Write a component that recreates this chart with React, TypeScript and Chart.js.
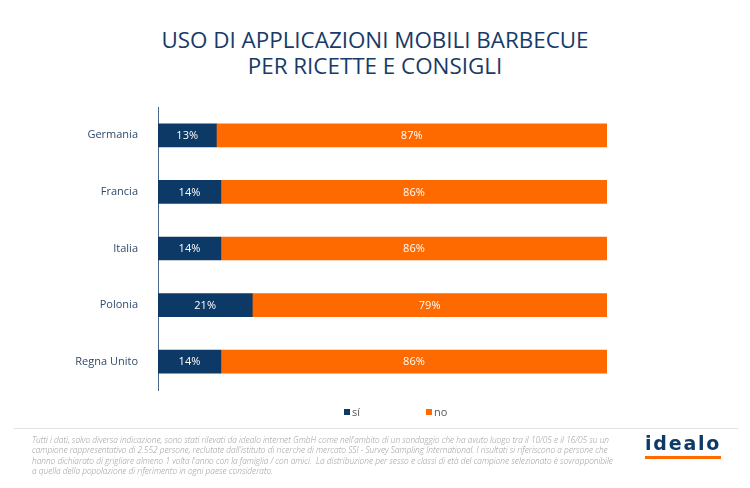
import React, { useEffect, useRef } from "react";
import { Chart, registerables } from "chart.js";

Chart.register(...registerables);

const categories = ["Germania", "Francia", "Italia", "Polonia", "Regna Unito"];
const siValues = [13, 14, 14, 21, 14];
const noValues = [87, 86, 86, 79, 86];
const seriesNames = ["sí", "no"];
const titleLines = ["USO DI APPLICAZIONI MOBILI BARBECUE", "PER RICETTE E CONSIGLI"];
const footerLines = [
  "Tutti i dati, salvo diversa indicazione, sono stati rilevati da idealo internet GmbH come nell'ambito di un sondaggio che ha avuto luogo tra il 10/05 e il 16/05 su un",
  "campione rappresentativo di 2.552 persone, reclutate dall'istituto di ricerche di mercato SSI - Survey Sampling International. I risultati si riferiscono a persone che",
  "hanno dichiarato di grigliare almeno 1 volta l'anno con la famiglia / con amici.  La distribuzione per sesso e classi di età del campione selezionato è sovrapponibile",
  "a quella della popolazione di riferimento in ogni paese considerato.",
];

const NAVY = "#0c3966";
const ORANGE = "#ff6a00";
const FONT = '"Open Sans", "DejaVu Sans", sans-serif';

const barLabels = {
  id: "barLabels",
  afterDatasetsDraw(chart: any) {
    const ctx = chart.ctx;
    ctx.save();
    ctx.font = `11px ${FONT}`;
    ctx.fillStyle = "#ffffff";
    ctx.textAlign = "center";
    ctx.textBaseline = "middle";
    chart.data.datasets.forEach((ds: any, di: number) => {
      const meta = chart.getDatasetMeta(di);
      meta.data.forEach((el: any, i: number) => {
        const cx = (el.x + el.base) / 2;
        ctx.fillText(`${ds.data[i]}%`, cx, el.y + 0.5);
      });
    });
    ctx.restore();
  },
};

export default function App() {
  const ref = useRef<HTMLCanvasElement | null>(null);
  useEffect(() => {
    let chart: Chart | null = null;
    let cancelled = false;
    const make = () => {
      if (cancelled || !ref.current) return;
      chart = new Chart(ref.current, {
        type: "bar",
        data: {
          labels: categories,
          datasets: [
            { label: seriesNames[0], data: siValues, backgroundColor: NAVY, barThickness: 23 },
            { label: seriesNames[1], data: noValues, backgroundColor: ORANGE, barThickness: 23 },
          ],
        },
        options: {
          indexAxis: "y",
          responsive: false,
          animation: false,
          layout: { padding: { top: 107, bottom: 98, left: 0, right: 143 } },
          plugins: { legend: { display: false }, tooltip: { enabled: false }, title: { display: false } },
          scales: {
            x: { stacked: true, min: 0, max: 100, display: false },
            y: {
              stacked: true,
              grid: { display: false, drawTicks: false, tickLength: 0 },
              border: { display: true, color: "#4a6688", width: 1 },
              ticks: { color: "#2f4a6a", font: { family: FONT, size: 11 }, padding: 20 },
              afterFit: (s: any) => {
                s.width = 158;
              },
            },
          },
        },
        plugins: [barLabels],
      });
    };
    const fonts: any = (document as any).fonts;
    if (fonts && fonts.load) {
      Promise.all([fonts.load(`11px "Open Sans"`), fonts.load(`italic 300 9px "Open Sans"`)])
        .catch(() => {})
        .then(make);
    } else make();
    return () => {
      cancelled = true;
      if (chart) chart.destroy();
    };
  }, []);

  return (
    <div style={{ position: "absolute", left: 0, top: 0, width: 750, height: 488, background: "#fff", overflow: "hidden", fontFamily: FONT }}>
      <div style={{ position: "absolute", left: 0, top: 27, width: 750, textAlign: "center", color: "#173a68", fontSize: 22.4, lineHeight: "25.5px", fontWeight: 400 }}>
        {titleLines.map((t, i) => (
          <div key={i}>{t}</div>
        ))}
      </div>
      <canvas ref={ref} width={750} height={488} style={{ position: "absolute", left: 0, top: 0, width: 750, height: 488 }} />
      <div style={{ position: "absolute", top: 404, left: 344, fontSize: 11, color: "#555", display: "flex", alignItems: "center" }}>
        <span style={{ display: "inline-block", width: 6, height: 6, background: NAVY, marginRight: 2 }} />
        <span>{seriesNames[0]}</span>
      </div>
      <div style={{ position: "absolute", top: 404, left: 426, fontSize: 11, color: "#555", display: "flex", alignItems: "center" }}>
        <span style={{ display: "inline-block", width: 6, height: 6, background: ORANGE, marginRight: 2 }} />
        <span>{seriesNames[1]}</span>
      </div>
      <div style={{ position: "absolute", left: 14, top: 428, width: 724, height: 1, background: "#e2e2e2" }} />
      <div style={{ position: "absolute", left: 32, top: 435, fontSize: 8.3, lineHeight: "10.3px", fontStyle: "italic", fontWeight: 300, color: "#9a9a9a", whiteSpace: "pre" }}>
        {footerLines.map((t, i) => (
          <div key={i}>{t}</div>
        ))}
      </div>
      <div style={{ position: "absolute", left: 645, top: 433, width: 76 }}>
        <div style={{ fontFamily: '"DejaVu Sans", sans-serif', fontWeight: 700, fontSize: 19, color: "#0d3a68", letterSpacing: 1.8, lineHeight: "21px" }}>idealo</div>
        <div style={{ marginTop: 2, height: 2.5, background: ORANGE }} />
      </div>
    </div>
  );
}
